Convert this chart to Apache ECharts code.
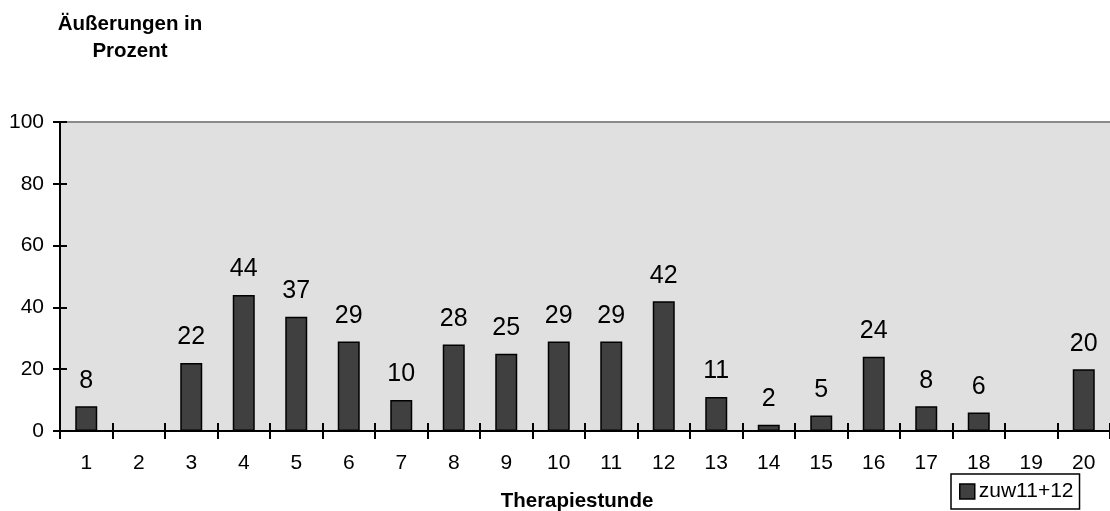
<!DOCTYPE html>
<html>
<head>
<meta charset="utf-8">
<script src="https://cdn.jsdelivr.net/npm/echarts@6/dist/echarts.min.js"></script>
<style>
html,body{margin:0;padding:0;background:#fff;}
#chart{width:1110px;height:511px;}
</style>
</head>
<body>
<div id="chart"></div>
<script>
const categories = ['1','2','3','4','5','6','7','8','9','10','11','12','13','14','15','16','17','18','19','20'];
const values = [8, 0, 22, 44, 37, 29, 10, 28, 25, 29, 29, 42, 11, 2, 5, 24, 8, 6, 0, 20];
const seriesName = 'zuw11+12';
const yMin = 0, yMax = 100, yInterval = 20;
const yTitle = 'Äußerungen in\nProzent';
const xTitle = 'Therapiestunde';

const FONT = '"Liberation Sans", Arial, sans-serif';
const chart = echarts.init(document.getElementById('chart'), null, {renderer: 'canvas'});

const baseX = {
  type: 'category', data: categories, gridIndex: 0, position: 'bottom',
  boundaryGap: true
};
const baseY = { type: 'value', min: yMin, max: yMax, interval: yInterval, gridIndex: 0, position: 'left' };

chart.setOption({
  animation: false,
  textStyle: {fontFamily: FONT},
  title: [
    {text: yTitle, left: 125, top: 6, textAlign: 'center',
     textStyle: {fontFamily: FONT, fontSize: 20.5, fontWeight: 'bold', color: '#000', lineHeight: 27, align: 'center'}},
    {text: xTitle, left: 572, top: 486, textAlign: 'center',
     textStyle: {fontFamily: FONT, fontSize: 20.5, fontWeight: 'bold', color: '#000'}}
  ],
  grid: {left: 60, right: 0, top: 122, bottom: 80, show: true, backgroundColor: '#e0e0e0', borderWidth: 0, containLabel: false},
  legend: {
    data: [seriesName], left: 951, top: 474,
    padding: [7, 6, 7, 8], borderColor: '#000', borderWidth: 1.5, backgroundColor: '#fff',
    itemWidth: 15, itemHeight: 15, itemGap: 6, icon: 'rect',
    itemStyle: {color: '#404040', borderColor: '#000', borderWidth: 1.5},
    textStyle: {fontFamily: FONT, fontSize: 21, color: '#000', padding: [0,0,0,-1]}
  },
  xAxis: [
    Object.assign({}, baseX, {
      axisLine: {show: true, lineStyle: {color: '#000', width: 2}},
      axisTick: {show: true, inside: false, length: 8, alignWithLabel: false, lineStyle: {color: '#000', width: 2}},
      axisLabel: {show: true, margin: 22, fontSize: 21, color: '#000', fontFamily: FONT},
      splitLine: {show: false}
    }),
    Object.assign({}, baseX, {
      axisLine: {show: false},
      axisTick: {show: true, inside: true, length: 8, lineStyle: {color: '#000', width: 2}},
      axisLabel: {show: false}, splitLine: {show: false}
    }),
    Object.assign({}, baseX, {
      position: 'top',
      axisLine: {show: true, lineStyle: {color: '#8a8a8a', width: 2}},
      axisTick: {show: false}, axisLabel: {show: false}, splitLine: {show: false}
    })
  ],
  yAxis: [
    Object.assign({}, baseY, {
      axisLine: {show: true, lineStyle: {color: '#000', width: 2}},
      axisTick: {show: true, inside: false, length: 7, lineStyle: {color: '#000', width: 2}},
      axisLabel: {show: true, margin: 16, fontSize: 21, color: '#000', fontFamily: FONT},
      splitLine: {show: false}
    }),
    Object.assign({}, baseY, {
      axisLine: {show: false},
      axisTick: {show: true, inside: true, length: 7, lineStyle: {color: '#000', width: 2}},
      axisLabel: {show: false}, splitLine: {show: false}
    })
  ],
  series: [{
    name: seriesName, type: 'bar', xAxisIndex: 0, yAxisIndex: 0,
    data: values, barWidth: 22,
    itemStyle: {color: '#404040', borderColor: '#000', borderWidth: 1.5},
    label: {
      show: true, position: 'top', distance: 13,
      fontSize: 25, color: '#000', fontFamily: FONT,
      formatter: p => (p.value === 0 ? '' : String(p.value))
    }
  }]
});
</script>
</body>
</html>
